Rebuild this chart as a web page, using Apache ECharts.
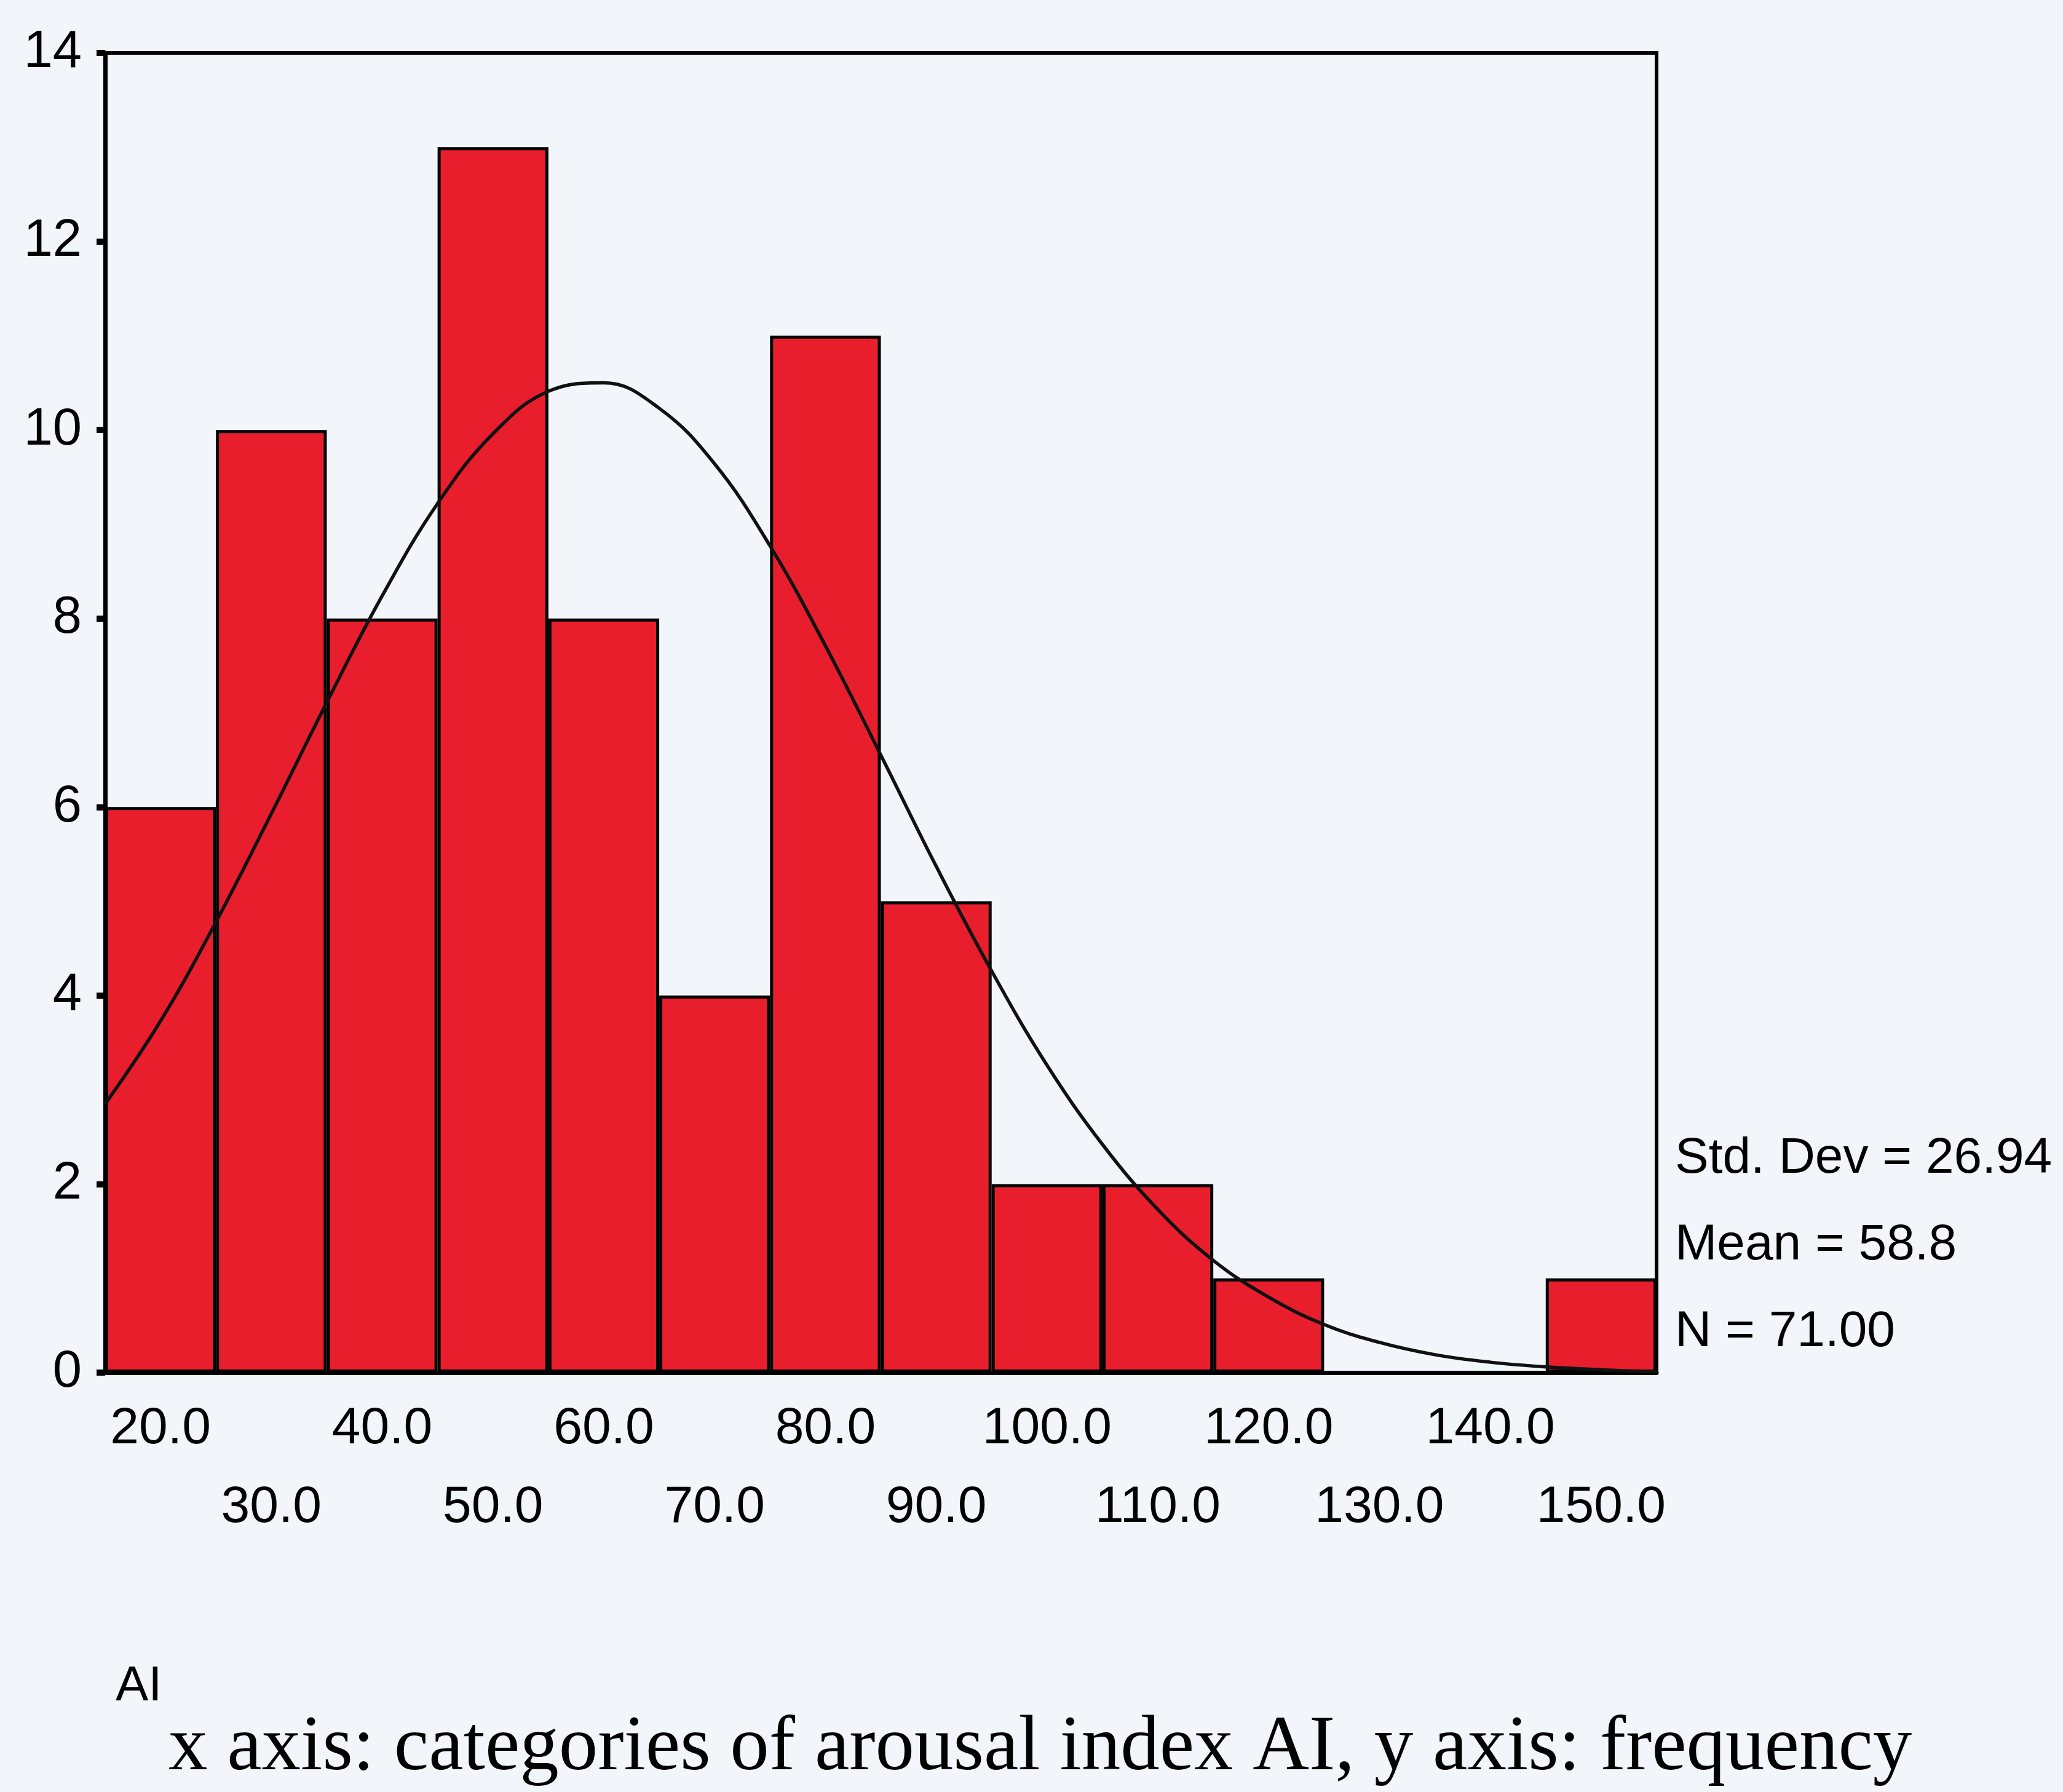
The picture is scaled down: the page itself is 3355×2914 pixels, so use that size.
<!DOCTYPE html>
<html>
<head>
<meta charset="utf-8">
<title>AI histogram</title>
<script src="https://cdn.jsdelivr.net/npm/echarts@6/dist/echarts.min.js"></script>
<style>
  html, body { margin: 0; padding: 0; background: #f2f5f9; }
  #hist_con { width: 3355px; height: 2914px; }
</style>
</head>
<body>
<div id="hist_con"></div>
<script>
// bin midpoints of AI and their frequencies
const binCenters = [20, 30, 40, 50, 60, 70, 80, 90, 100, 110, 120, 130, 140, 150];
const frequencies = [6, 10, 8, 13, 8, 4, 11, 5, 2, 2, 1, 0, 0, 1];

// fitted normal curve
const curveX = [15, 20, 25, 30, 35, 40, 45, 50, 55, 60, 65, 70, 75, 80, 85, 90, 95, 100, 105, 110, 115, 120, 125, 130, 135, 140, 145, 150, 155];
const curveY = [2.85, 3.73, 4.78, 5.93, 7.11, 8.24, 9.22, 9.96, 10.41, 10.5, 10.23, 9.64, 8.77, 7.71, 6.55, 5.37, 4.26, 3.26, 2.42, 1.73, 1.19, 0.8, 0.51, 0.32, 0.19, 0.11, 0.06, 0.03, 0.01];

const yTicks = [0, 2, 4, 6, 8, 10, 12, 14];
const statLines = ["Std. Dev = 26.94", "Mean = 58.8", "N = 71.00"];
const varName = "AI";
const caption = "x axis: categories of arousal index AI, y axis: frequency";

const sans = "'Liberation Sans', Arial, sans-serif";
const serif = "'Liberation Serif', 'DejaVu Serif', serif";

const option = {
  backgroundColor: "#f2f5f9",
  animation: false,
  grid: {
    left: 171,
    right: 661,
    top: 86,
    bottom: 682,
    show: true,
    borderColor: "#000",
    borderWidth: 6,
    backgroundColor: "transparent"
  },
  xAxis: [
    {
      type: "category",
      data: binCenters.map(v => v.toFixed(1)),
      boundaryGap: true,
      axisLine: { lineStyle: { color: "#000", width: 7 } },
      axisTick: {
        alignWithLabel: true,
        length: 13,
        lineStyle: { color: "#000", width: 10 }
      },
      axisLabel: {
        interval: 0,
        margin: 28,
        color: "#000",
        fontFamily: sans,
        fontSize: 84,
        lineHeight: 128,
        formatter: (value, index) => (index % 2 ? "\n" + value : value)
      },
      splitLine: { show: false }
    },
    {
      type: "value",
      min: 15,
      max: 155,
      show: false
    }
  ],
  yAxis: {
    type: "value",
    min: yTicks[0],
    max: yTicks[yTicks.length - 1],
    interval: 2,
    axisLine: { show: true, lineStyle: { color: "#000", width: 7 } },
    axisTick: { show: true, length: 14, lineStyle: { color: "#000", width: 10 } },
    axisLabel: {
      margin: 38,
      color: "#000",
      fontFamily: sans,
      fontSize: 85
    },
    splitLine: { show: false }
  },
  series: [
    {
      name: "frequency",
      type: "bar",
      xAxisIndex: 0,
      barCategoryGap: 0,
      barWidth: "100%",
      itemStyle: {
        color: "#e81e2d",
        borderColor: "#000",
        borderWidth: 5
      },
      data: frequencies
    },
    {
      name: "normal",
      type: "line",
      xAxisIndex: 1,
      smooth: 0.4,
      symbol: "none",
      lineStyle: { color: "#111", width: 5.5 },
      data: curveX.map((x, i) => [x, curveY[i]]),
      z: 5
    }
  ],
  graphic: [
    ...statLines.map((t, i) => ({
      type: "text",
      left: 2724,
      top: 1883 + i * 141 - 40,
      style: { text: t, fill: "#000", font: "82px " + sans }
    })),
    {
      type: "text",
      left: 188,
      top: 2739 - 36,
      style: { text: varName, fill: "#000", font: "80px " + sans }
    },
    {
      type: "text",
      left: 274,
      top: 2842 - 62,
      style: { text: caption, fill: "#000", font: "127px " + serif }
    }
  ]
};

const histChart = echarts.init(document.getElementById("hist_con"));
histChart.setOption(option);
window.addEventListener("resize", function() {
  histChart.resize();
});
</script>
</body>
</html>
